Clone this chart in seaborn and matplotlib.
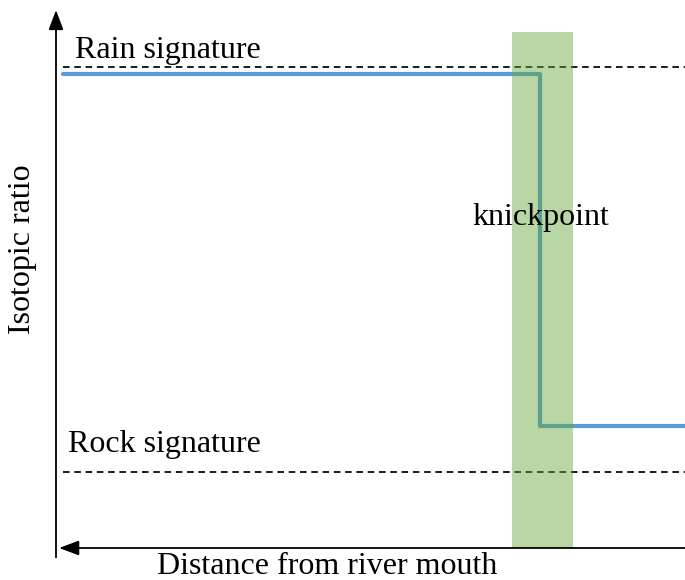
import matplotlib
matplotlib.use("Agg")
import matplotlib.pyplot as plt
import seaborn as sns
import pandas as pd

# schematic values, normalised distance (0 = left end) and isotopic ratio (0..1)
distance = [0.011, 0.770, 0.770, 1.0]
ratio = [0.882, 0.882, 0.2325, 0.2325]
rain_signature = 0.895
rock_signature = 0.148
knick_start = 0.725
knick_end = 0.822
knick_top = 0.959
knick_bottom = 0.0074

df = pd.DataFrame({"Distance": distance, "Ratio": ratio})

sns.set_style("white")
plt.rcParams["font.family"] = ["Liberation Serif", "DejaVu Serif"]
plt.rcParams["text.color"] = "black"

fig = plt.figure(figsize=(6.85, 5.8), dpi=100)
ax = fig.add_axes([56 / 685, 28 / 580, 629 / 685, 542 / 580])
ax.set_xlim(0, 1)
ax.set_ylim(0, 1)
for s in ax.spines.values():
    s.set_visible(False)
ax.set_xticks([])
ax.set_yticks([])

# profile line (step shape, no aggregation)
sns.lineplot(data=df, x="Distance", y="Ratio", sort=False, estimator=None,
             color="#5B9BD5", linewidth=3.0, ax=ax, zorder=2)

# signature lines
ax.axhline(rain_signature, xmin=0.011, xmax=1, color="black", lw=1.25,
           linestyle=(0, (3.8, 2.7)), zorder=2)
ax.axhline(rock_signature, xmin=0.011, xmax=1, color="black", lw=1.25,
           linestyle=(0, (3.8, 2.7)), zorder=2)

# knickpoint band (translucent so the line shows through)
ax.fill_between([knick_start, knick_end], knick_bottom, knick_top,
                color="#64A837", alpha=0.45, lw=0, zorder=3)

# axes arrows
ax.annotate("", xy=(0, 1), xytext=(0, -0.01), xycoords="axes fraction",
            arrowprops=dict(arrowstyle="-|>,head_length=1.2,head_width=0.45",
                            color="black", lw=1.3, shrinkA=0, shrinkB=0))
ax.annotate("", xy=(0.005, 0.0074), xytext=(1, 0.0074), xycoords="axes fraction",
            arrowprops=dict(arrowstyle="-|>,head_length=1.2,head_width=0.45",
                            color="black", lw=1.3, shrinkA=0, shrinkB=0))

ax.text(0.030, 0.925, "Rain signature", fontsize=23, va="center", ha="left")
ax.text(0.019, 0.198, "Rock signature", fontsize=23, va="center", ha="left")
ax.text(0.771, 0.617, "knickpoint", fontsize=23, va="center", ha="center", zorder=4)

fig.text(327 / 685, 6 / 580, "Distance from river mouth", fontsize=23,
         ha="center", va="baseline")
fig.text(23 / 685, 1 - 249 / 580, "Isotopic ratio", fontsize=23, rotation=90,
         ha="center", va="center")

fig.savefig("out.png", dpi=100)
